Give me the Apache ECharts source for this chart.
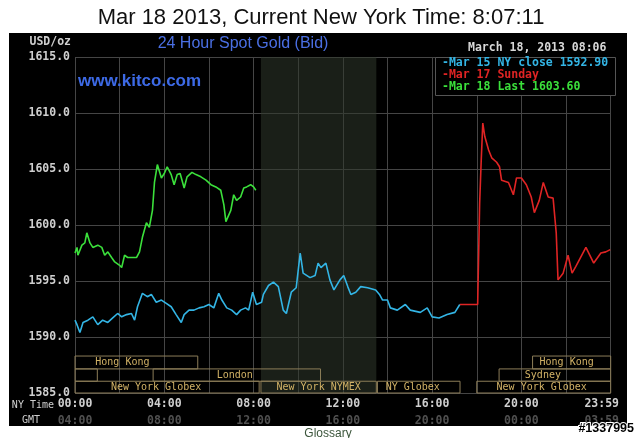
<!DOCTYPE html>
<html>
<head>
<meta charset="utf-8">
<script src="https://cdn.jsdelivr.net/npm/echarts@6/dist/echarts.min.js"></script>
<style>html,body{margin:0;padding:0;background:#fff}#c{width:640px;height:438px}</style>
</head>
<body>
<div id="c"></div>
<script>
// ---- data (time in NY hours, price USD/oz) ----
const mar15Times = [0.00,0.09,0.22,0.36,0.58,0.80,1.02,1.24,1.47,1.69,1.91,2.09,2.31,2.53,2.67,2.80,3.02,3.24,3.42,3.64,3.87,4.09,4.31,4.53,4.76,4.89,5.11,5.33,5.56,5.78,6.00,6.22,6.44,6.58,6.80,7.02,7.24,7.42,7.64,7.78,7.96,8.13,8.36,8.44,8.67,8.89,9.11,9.33,9.47,9.69,9.91,10.09,10.22,10.53,10.76,10.89,11.02,11.24,11.42,11.60,11.87,12.04,12.22,12.36,12.58,12.80,13.11,13.47,13.64,13.78,14.00,14.13,14.44,14.80,15.02,15.47,15.78,16.00,16.31,16.67,17.02,17.24];
const mar15Values = [1591.5,1591.1,1590.4,1591.3,1591.5,1591.8,1591.1,1591.5,1591.3,1591.7,1592.1,1591.8,1592.0,1592.1,1591.5,1592.7,1593.9,1593.6,1593.8,1593.1,1593.3,1593.0,1592.7,1592.0,1591.3,1592.0,1592.4,1592.4,1592.6,1592.7,1592.9,1592.6,1593.9,1593.3,1592.6,1592.4,1592.0,1592.4,1592.6,1592.4,1594.0,1592.9,1593.1,1593.8,1594.6,1594.9,1594.5,1592.4,1592.1,1594.0,1594.4,1597.5,1595.7,1595.3,1595.5,1596.6,1596.2,1596.6,1595.1,1594.2,1595.1,1595.5,1594.5,1593.8,1594.0,1594.5,1594.4,1594.2,1593.8,1593.3,1593.3,1592.6,1592.4,1592.9,1592.4,1592.2,1592.6,1591.8,1591.7,1592.0,1592.2,1592.9];

const mar17Times = [17.24,18.04,18.13,18.20,18.27,18.36,18.53,18.67,18.89,19.02,19.11,19.42,19.64,19.78,20.00,20.22,20.44,20.58,20.80,20.98,21.20,21.42,21.56,21.64,21.87,22.09,22.27,22.44,22.89,23.24,23.56,23.78,23.98];
const mar17Values = [1592.9,1592.9,1602.0,1605.8,1609.1,1607.9,1606.7,1606.0,1605.6,1605.2,1604.0,1603.8,1602.7,1604.2,1604.2,1603.6,1602.5,1601.1,1602.2,1603.8,1602.5,1602.4,1599.3,1595.1,1595.7,1597.3,1595.7,1596.3,1598.0,1596.6,1597.5,1597.6,1597.8];

const mar18Times = [0.00,0.09,0.13,0.31,0.44,0.53,0.67,0.80,1.02,1.20,1.33,1.47,1.64,1.78,2.00,2.09,2.22,2.36,2.53,2.76,2.89,3.02,3.20,3.33,3.47,3.56,3.69,3.87,4.00,4.13,4.31,4.44,4.58,4.71,4.89,5.02,5.24,5.42,5.64,5.87,6.09,6.31,6.53,6.67,6.76,6.98,7.11,7.24,7.42,7.56,7.69,7.87,8.00,8.10];
const mar18Values = [1597.5,1598.0,1597.3,1598.2,1598.4,1599.3,1598.4,1598.0,1598.2,1598.0,1597.3,1597.6,1597.1,1596.7,1596.4,1596.2,1597.3,1597.1,1597.1,1597.1,1597.6,1598.9,1600.2,1599.8,1601.3,1603.8,1605.4,1604.2,1604.6,1605.2,1604.5,1603.6,1604.5,1604.6,1603.3,1604.3,1604.7,1604.5,1604.3,1604.0,1603.6,1603.4,1603.1,1601.8,1600.3,1601.3,1602.7,1602.2,1602.5,1603.3,1603.4,1603.6,1603.4,1603.1];

const seriesNames = ['Mar 15 NY close 1592.90','Mar 17 Sunday','Mar 18 Last 1603.60'];

const sessionNames = ['Hong Kong','Hong Kong','','London','Sydney','New York Globex','New York NYMEX','NY Globex','New York Globex'];
const sessionStart = [0, 20.5, 0, 3.5, 19.0, 0, 8.33, 13.55, 18.0];
const sessionEnd   = [5.5, 24, 1.0, 11.0, 24, 8.25, 13.5, 17.25, 24];
const sessionRow   = [0, 0, 1, 1, 1, 2, 2, 2, 2];

const nymexHours = [8.33, 13.5];

const nyTickLabels  = ['00:00','04:00','08:00','12:00','16:00','20:00','23:59'];
const gmtTickLabels = ['04:00','08:00','12:00','16:00','20:00','00:00','03:59'];

// ---- layout / style ----
const rowTop = [1588.3, 1587.15, 1586.05];
const rowBottom = [1587.15, 1586.05, 1585.0];
const labelShift = [-14, -5, 0, -2, -12, -11, 0, -6, -2];
const mono = 'DejaVu Sans Mono';
const colors = ['#33b5e5', '#e02424', '#3be03b'];

function zip(t, v) { return t.map((x, i) => [x, v[i]]); }

const sessionAreas = sessionNames.map((n, i) => [
  { xAxis: sessionStart[i], yAxis: rowBottom[sessionRow[i]], name: n,
    label: { show: true, position: 'inside', offset: [labelShift[i], 0], formatter: n,
      color: '#d2b266', fontFamily: mono, fontSize: 10 } },
  { xAxis: sessionEnd[i], yAxis: rowTop[sessionRow[i]] }
]);

const chart = echarts.init(document.getElementById('c'), null, { renderer: 'canvas' });
chart.setOption({
  backgroundColor: '#ffffff',
  animation: false,
  grid: { left: 75, right: 24, top: 57, bottom: 45, containLabel: false },
  xAxis: {
    type: 'value', min: 0, max: 24, interval: 2,
    axisLine: { show: false }, axisTick: { show: false },
    splitLine: { show: true, lineStyle: { color: '#454545', width: 1 } },
    axisLabel: {
      show: true, interval: 0, margin: 3, showMaxLabel: true, showMinLabel: true,
      formatter: function (v) {
        if (v % 4 !== 0 && v !== 24) return '';
        const i = v === 24 ? 6 : v / 4;
        if (v === 24) return '{c|' + nyTickLabels[i] + '}\n{d|' + gmtTickLabels[i] + '}';
        return '{a|' + nyTickLabels[i] + '}\n{b|' + gmtTickLabels[i] + '}';
      },
      rich: {
        a: { color: '#cfcfcf', fontFamily: mono, fontSize: 11.5, fontWeight: 'bold', lineHeight: 16.5 },
        b: { color: '#505050', fontFamily: mono, fontSize: 11.5, fontWeight: 'bold', lineHeight: 16.5 },
        c: { color: '#cfcfcf', fontFamily: mono, fontSize: 11.5, fontWeight: 'bold', lineHeight: 16.5, padding: [0, 18, 0, 0] },
        d: { color: '#505050', fontFamily: mono, fontSize: 11.5, fontWeight: 'bold', lineHeight: 16.5, padding: [0, 18, 0, 0] }
      }
    }
  },
  yAxis: {
    type: 'value', min: 1585, max: 1615, interval: 5,
    axisLine: { show: false }, axisTick: { show: false },
    splitLine: { show: true, lineStyle: { color: '#454545', width: 1 } },
    axisLabel: { margin: 5, color: '#cfcfcf', fontFamily: mono, fontSize: 11.5, fontWeight: 'bold',
      formatter: v => v.toFixed(1) }
  },
  graphic: [
    { type: 'rect', z: -100, silent: true, shape: { x: 9, y: 33, width: 618, height: 393 }, style: { fill: '#000' } },
    { type: 'text', z: 10, x: 321, y: 18, style: { text: 'Mar 18 2013, Current New York Time: 8:07:11', fill: '#111',
      font: '22px "Liberation Sans", Arial, sans-serif', textAlign: 'center', textVerticalAlign: 'middle' } },
    { type: 'text', z: 10, x: 243, y: 44, style: { text: '24 Hour Spot Gold (Bid)', fill: '#4a6fe3',
      font: '16px "Liberation Sans", Arial, sans-serif', textAlign: 'center', textVerticalAlign: 'middle' } },
    { type: 'text', z: 10, x: 78, y: 81, style: { text: 'www.kitco.com', fill: '#3d6ae6',
      font: 'bold 17px "Liberation Sans", Arial, sans-serif', textAlign: 'left', textVerticalAlign: 'middle' } },
    { type: 'text', z: 10, x: 71, y: 42, style: { text: 'USD/oz', fill: '#cfcfcf',
      font: 'bold 11.5px "DejaVu Sans Mono", monospace', textAlign: 'right', textVerticalAlign: 'middle' } },
    { type: 'text', z: 10, x: 468, y: 48, style: { text: 'March 18, 2013 08:06', fill: '#d8d8d8',
      font: 'bold 11.5px "DejaVu Sans Mono", monospace', textAlign: 'left', textVerticalAlign: 'middle' } },
    { type: 'rect', z: 20, shape: { x: 435.5, y: 57.5, width: 180, height: 38 }, style: { fill: '#000', stroke: '#555', lineWidth: 1 } },
    { type: 'text', z: 21, x: 442, y: 63, style: { text: '-' + seriesNames[0], fill: colors[0],
      font: 'bold 11.5px "DejaVu Sans Mono", monospace', textAlign: 'left', textVerticalAlign: 'middle' } },
    { type: 'text', z: 21, x: 442, y: 75, style: { text: '-' + seriesNames[1], fill: colors[1],
      font: 'bold 11.5px "DejaVu Sans Mono", monospace', textAlign: 'left', textVerticalAlign: 'middle' } },
    { type: 'text', z: 21, x: 442, y: 87, style: { text: '-' + seriesNames[2], fill: colors[2],
      font: 'bold 11.5px "DejaVu Sans Mono", monospace', textAlign: 'left', textVerticalAlign: 'middle' } },
    { type: 'text', z: 10, x: 54, y: 405, style: { text: 'NY Time', fill: '#cfcfcf',
      font: '10px "DejaVu Sans Mono", monospace', textAlign: 'right', textVerticalAlign: 'middle' } },
    { type: 'text', z: 10, x: 22, y: 420, style: { text: 'GMT', fill: '#cfcfcf',
      font: '10px "DejaVu Sans Mono", monospace', textAlign: 'left', textVerticalAlign: 'middle' } },
    { type: 'text', z: 10, x: 328, y: 434, style: { text: 'Glossary', fill: '#3b553b',
      font: '12px "Liberation Sans", Arial, sans-serif', textAlign: 'center', textVerticalAlign: 'middle' } },
    { type: 'text', z: 30, x: 634, y: 429, style: { text: '#1337995', fill: '#000', stroke: '#fff', lineWidth: 2,
      font: 'bold 12.5px "Liberation Sans", Arial, sans-serif', textAlign: 'right', textVerticalAlign: 'middle' } }
  ],
  series: [
    { type: 'line', z: 1, data: [], silent: true,
      markArea: { silent: true, itemStyle: { color: 'rgba(48,56,44,0.55)' },
        data: [[{ xAxis: nymexHours[0], yAxis: 1585 }, { xAxis: nymexHours[1], yAxis: 1615 }]] } },
    { name: seriesNames[0], type: 'line', data: zip(mar15Times, mar15Values), showSymbol: false, symbol: 'none',
      lineStyle: { color: colors[0], width: 1.6 }, z: 3 },
    { name: seriesNames[1], type: 'line', data: zip(mar17Times, mar17Values), showSymbol: false, symbol: 'none',
      lineStyle: { color: colors[1], width: 1.6 }, z: 3 },
    { name: seriesNames[2], type: 'line', data: zip(mar18Times, mar18Values), showSymbol: false, symbol: 'none',
      lineStyle: { color: colors[2], width: 1.6 }, z: 3 },
    { type: 'line', z: 4, data: [], silent: true,
      markArea: { silent: true, itemStyle: { color: 'rgba(0,0,0,0)', borderColor: '#8c7d58', borderWidth: 1 },
        data: sessionAreas } }
  ]
});
</script>
</body>
</html>
